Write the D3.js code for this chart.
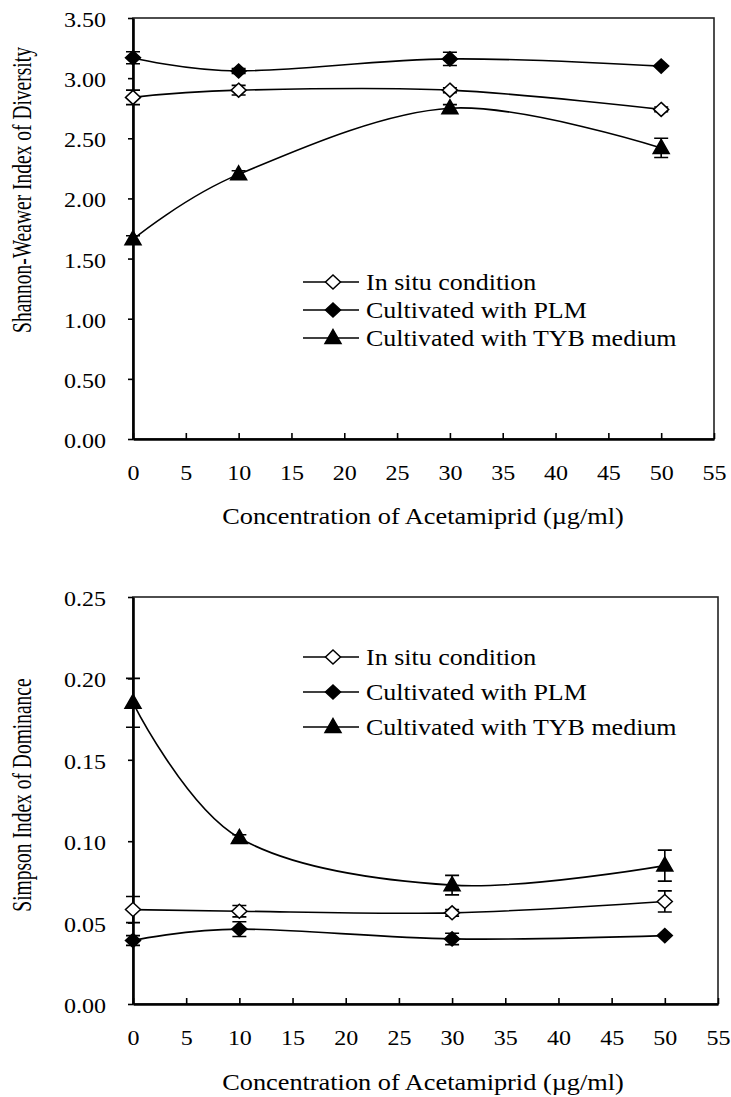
<!DOCTYPE html>
<html>
<head>
<meta charset="utf-8">
<script src="https://cdn.jsdelivr.net/npm/d3@7"></script>
<style>
  body { margin: 0; background: #fff; }
  svg { display: block; font-family: "Liberation Serif", "Times New Roman", serif; }
</style>
</head>
<body>
<svg id="chart" width="731" height="1097"></svg>
<script>
/* chart data */
var concentrations = [0, 10, 30, 50]
var xTicks = [0, 5, 10, 15, 20, 25, 30, 35, 40, 45, 50, 55]
var seriesNames = ['In situ condition', 'Cultivated with PLM', 'Cultivated with TYB medium']
var seriesMarkers = ['openDiamond', 'diamond', 'triangle']

var shannonInSitu = [2.84, 2.90, 2.90, 2.74]
var shannonInSituErr = [0.06, 0.04, 0.02, 0.02]
var shannonPLM = [3.17, 3.06, 3.16, 3.10]
var shannonPLMErr = [0.05, 0.02, 0.055, 0.0]
var shannonTYB = [1.66, 2.20, 2.75, 2.42]
var shannonTYBErr = [0.03, 0.03, 0.03, 0.08]
var shannonTicks = [0, 0.5, 1, 1.5, 2, 2.5, 3, 3.5]

var simpsonInSitu = [0.058, 0.057, 0.056, 0.063]
var simpsonInSituErr = [0.008, 0.0035, 0.002, 0.0065]
var simpsonPLM = [0.039, 0.046, 0.040, 0.042]
var simpsonPLMErr = [0.003, 0.0045, 0.0035, 0.0]
var simpsonTYB = [0.185, 0.102, 0.073, 0.085]
var simpsonTYBErr = [0.015, 0.002, 0.006, 0.0095]
var simpsonTicks = [0, 0.05, 0.1, 0.15, 0.2, 0.25]

var svg = d3.select('#chart')

/**
 * Adds a text that is stretched horizontally like the scanned figure
 */
function stretchedText(parent, x, y, str, size, sx, anchor) {
	return parent.append('text')
		.attr('transform', 'translate(' + x + ',' + y + ') scale(' + sx + ',1)')
		.attr('text-anchor', anchor || 'start')
		.style('font-size', size + 'px')
		.text(str)
}

/**
 * Marker shapes, drawn around (0,0)
 */
function markerPath(kind) {
	if (kind == 'triangle') return 'M0,-8.5L8,5.5L-8,5.5Z'
	return 'M0,-7L7.5,0L0,7L-7.5,0Z'
}

function drawMarker(g, kind, x, y) {
	g.append('path')
		.attr('d', markerPath(kind))
		.attr('transform', 'translate(' + x + ',' + y + ')')
		.attr('fill', kind == 'openDiamond' ? '#fff' : '#000')
		.attr('stroke', '#000')
		.attr('stroke-width', 1.5)
}

/**
 * Draws one panel: frame, axes, smoothed series with error bars, legend and titles
 */
function drawPanel(opts) {
	var x = d3.scaleLinear().domain([0, 55]).range([opts.left, opts.right])
	var y = d3.scaleLinear().domain([0, opts.yMax]).range([opts.bottom, opts.top])
	var g = svg.append('g')

	/* thin frame for top and right */
	g.append('rect')
		.attr('x', opts.left).attr('y', opts.top)
		.attr('width', opts.right - opts.left).attr('height', opts.bottom - opts.top)
		.attr('fill', 'none').attr('stroke', '#222').attr('stroke-width', 1.6)

	/* y axis, ticks outward */
	var yAxis = g.append('g')
		.attr('transform', 'translate(' + opts.left + ',0)')
		.call(d3.axisLeft(y).tickValues(opts.yTicks).tickFormat(d3.format('.2f')).tickSize(5).tickSizeOuter(0))
		.attr('font-family', null)
		.attr('font-size', null)
	yAxis.select('.domain').attr('stroke-width', 2.6)
	yAxis.selectAll('.tick line').attr('stroke-width', 1.6)
	yAxis.selectAll('text')
		.attr('x', null)
		.attr('dy', '0.35em')
		.attr('transform', 'translate(-27,1.5) scale(1.2,1)')
		.attr('fill', '#000')
		.style('font-size', '20px')

	/* x axis, ticks inward */
	var xAxis = g.append('g')
		.attr('transform', 'translate(0,' + opts.bottom + ')')
		.call(d3.axisBottom(x).tickValues(xTicks).tickSize(-6).tickSizeOuter(0))
		.attr('font-family', null)
		.attr('font-size', null)
	xAxis.select('.domain').attr('stroke-width', 2.6)
	xAxis.selectAll('.tick line').attr('stroke-width', 1.6)
	xAxis.selectAll('text')
		.attr('y', null)
		.attr('dy', '0.35em')
		.attr('transform', 'translate(0,34) scale(1.2,1)')
		.attr('fill', '#000')
		.style('font-size', '20px')

	/* series */
	var line = d3.line()
		.x(function(d) { return x(d.x) })
		.y(function(d) { return y(d.y) })
		.curve(d3.curveCatmullRom.alpha(0))

	opts.series.forEach(function(s, i) {
		var pts = concentrations.map(function(c, j) { return { x: c, y: s.values[j], e: s.errors[j] } })
		g.append('path').datum(pts)
			.attr('d', line)
			.attr('fill', 'none').attr('stroke', '#000').attr('stroke-width', 1.6)

		pts.forEach(function(p) {
			if (p.e <= 0) return
			var px = x(p.x), y1 = y(p.y + p.e), y0 = y(p.y - p.e)
			g.append('path')
				.attr('d', 'M' + px + ',' + y1 + 'V' + y0 + 'M' + (px - 7) + ',' + y1 + 'H' + (px + 7) + 'M' + (px - 7) + ',' + y0 + 'H' + (px + 7))
				.attr('fill', 'none').attr('stroke', '#000').attr('stroke-width', 1.6)
		})
		pts.forEach(function(p) { drawMarker(g, seriesMarkers[i], x(p.x), y(p.y)) })
	})

	/* legend */
	seriesNames.forEach(function(name, i) {
		var ly = opts.legendY[i]
		g.append('line')
			.attr('x1', 303).attr('x2', 359).attr('y1', ly).attr('y2', ly)
			.attr('stroke', '#000').attr('stroke-width', 1.6)
		drawMarker(g, seriesMarkers[i], 333, ly)
		stretchedText(g, 366, ly + 8, name, 23, 1.13)
	})

	/* axis titles */
	stretchedText(g, 423, opts.xTitleY, 'Concentration of Acetamiprid (\u00b5g/ml)', 22.5, 1.17, 'middle')
	g.append('text')
		.attr('transform', 'translate(31,' + opts.yTitleMid + ') rotate(-90) scale(1,1.35)')
		.attr('text-anchor', 'middle')
		.style('font-size', '19.5px')
		.text(opts.yTitle)
}

drawPanel({
	left: 133, right: 714, top: 18, bottom: 439,
	yMax: 3.5, yTicks: shannonTicks,
	series: [
		{ values: shannonInSitu, errors: shannonInSituErr },
		{ values: shannonPLM, errors: shannonPLMErr },
		{ values: shannonTYB, errors: shannonTYBErr }
	],
	legendY: [282, 310, 338],
	xTitleY: 524,
	yTitle: 'Shannon-Weawer Index of Diversity',
	yTitleMid: 190
})

drawPanel({
	left: 133, right: 718, top: 597, bottom: 1004,
	yMax: 0.25, yTicks: simpsonTicks,
	series: [
		{ values: simpsonInSitu, errors: simpsonInSituErr },
		{ values: simpsonPLM, errors: simpsonPLMErr },
		{ values: simpsonTYB, errors: simpsonTYBErr }
	],
	legendY: [657, 692, 727],
	xTitleY: 1090,
	yTitle: 'Simpson Index of Dominance',
	yTitleMid: 795
})
</script>
</body>
</html>
